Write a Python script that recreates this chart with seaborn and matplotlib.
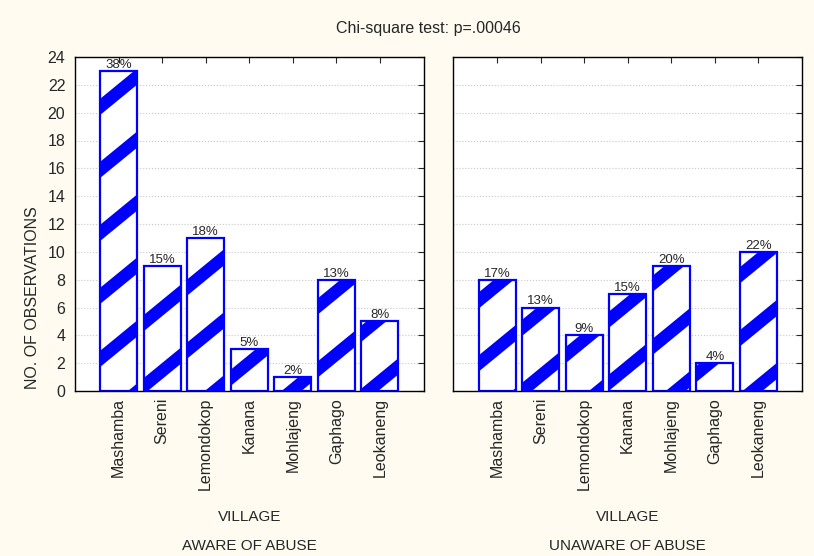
import numpy as np
import pandas as pd
import matplotlib.pyplot as plt
import seaborn as sns
from matplotlib.lines import Line2D
from matplotlib.transforms import IdentityTransform

# %%

# Data

villages = ['Mashamba', 'Sereni', 'Lemondokop', 'Kanana', 'Mohlajeng',
            'Gaphago', 'Leokaneng']
aware_counts = [23, 9, 11, 3, 1, 8, 5]
unaware_counts = [8, 6, 4, 7, 9, 2, 10]
aware_pct = ['38%', '15%', '18%', '5%', '2%', '13%', '8%']
unaware_pct = ['17%', '13%', '9%', '15%', '20%', '4%', '22%']
groups = ['AWARE OF ABUSE', 'UNAWARE OF ABUSE']

df = pd.DataFrame({'village': villages * 2,
                   'count': aware_counts + unaware_counts,
                   'pct': aware_pct + unaware_pct,
                   'group': [groups[0]] * 7 + [groups[1]] * 7})

# %%

sns.set_style('white')
plt.rcParams['font.family'] = ['Liberation Sans', 'DejaVu Sans']

blue = '#0000ff'

fig, axes = plt.subplots(1, 2, figsize=(8.14, 5.56), dpi=100, sharey=True)
fig.patch.set_facecolor('#fffbf0')
fig.subplots_adjust(left=75/814, right=802/814, bottom=1-391/556,
                    top=1-57/556, wspace=0.086)

for ax, grp in zip(axes, groups):
    sub = df[df['group'] == grp]
    sns.barplot(data=sub, x='village', y='count', ax=ax, color='white',
                saturation=1, edgecolor=blue, linewidth=1.6, width=0.85)
    ax.set_xlim(-1, 7)
    ax.set_ylim(0, 24)
    ax.set_yticks(np.arange(0, 25, 2))
    ax.set_facecolor('white')
    ax.set_axisbelow(True)
    ax.yaxis.grid(True, linestyle=':', color='#c8c8c8', linewidth=0.8)
    ax.tick_params(direction='in', top=True, right=True, length=4,
                   width=0.8, labelsize=11.5, pad=5)
    ax.tick_params(axis='y', pad=7)
    ax.tick_params(axis='x', rotation=90)
    for s in ax.spines.values():
        s.set_color('black')
        s.set_linewidth(1.0)
    ax.bar_label(ax.containers[0], labels=list(sub['pct']), fontsize=9.5,
                 padding=0)
    ax.set_xlabel('VILLAGE', fontsize=11, labelpad=14)
    ax.set_ylabel('')
    pos = ax.get_position()
    fig.text((pos.x0 + pos.x1) / 2, 1 - 546/556, grp, ha='center',
             va='center', fontsize=11)

axes[0].set_ylabel('NO. OF OBSERVATIONS', fontsize=11.5)
axes[0].yaxis.set_label_coords(-0.10, 0.28)
axes[1].tick_params(labelleft=False)

fig.text(428/814, 1 - 28/556, 'Chi-square test: p=.00046', ha='center',
         va='center', fontsize=11.5)

# %%

# Thick diagonal stripes inside each bar (pixel space, clipped to the bar)

spacing = 63
phase = 52
slope = 0.82
for ax in axes:
    for patch in ax.containers[0]:
        x0, y0 = ax.transData.transform((patch.get_x(), patch.get_y()))
        x1, y1 = ax.transData.transform((patch.get_x() + patch.get_width(),
                                         patch.get_y() + patch.get_height()))
        kmin = int(np.floor((y0 - slope * x1 - phase) / spacing)) - 1
        kmax = int(np.ceil((y1 - slope * x0 - phase) / spacing)) + 1
        for k in range(kmin, kmax + 1):
            c = k * spacing + phase
            xs = [x0 - 10, x1 + 10]
            ys = [slope * x + c for x in xs]
            ln = Line2D(xs, ys, transform=IdentityTransform(), color=blue,
                        linewidth=9, solid_capstyle='butt', zorder=1.5)
            ln.set_clip_path(patch)
            fig.add_artist(ln)

fig.savefig('out.png', dpi=100, facecolor=fig.get_facecolor())
